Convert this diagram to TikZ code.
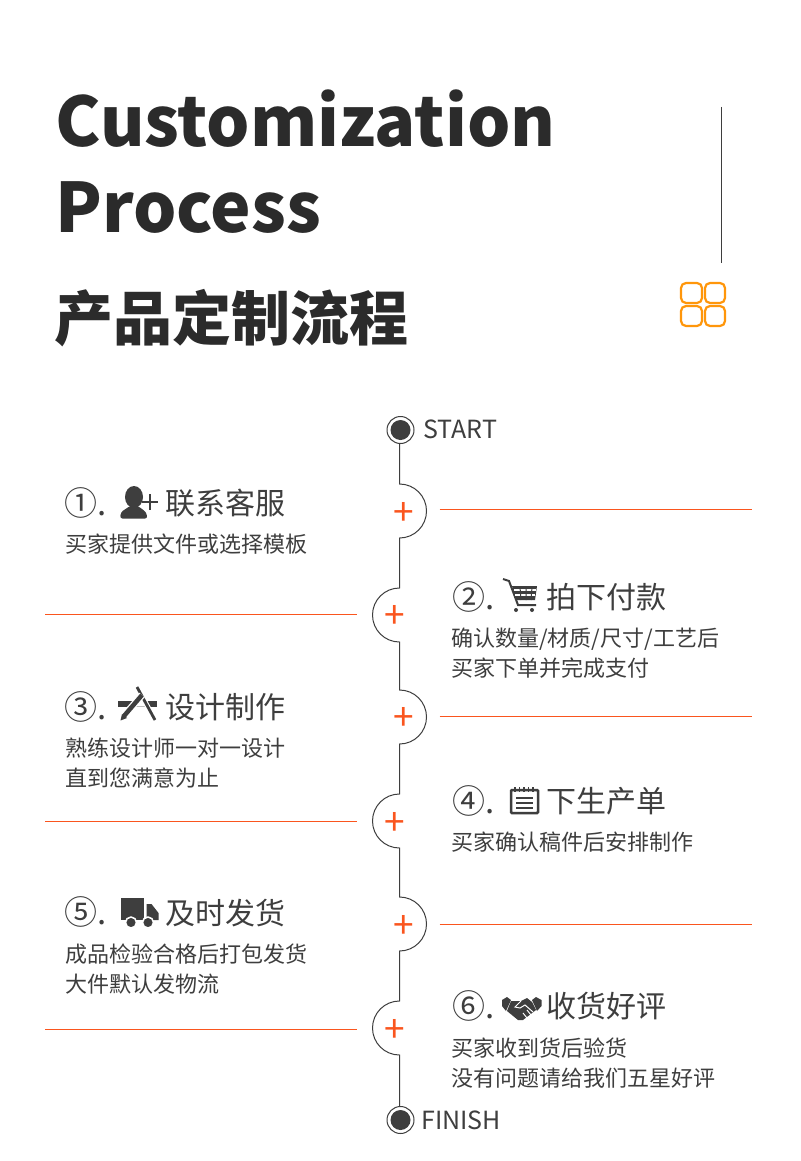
\documentclass[tikz,border=0pt]{standalone}
\usepackage{fontspec}
\setmainfont{Noto Sans CJK SC}
\usetikzlibrary{positioning}
\definecolor{pdark}{RGB}{43,43,43}
\definecolor{pgray}{RGB}{62,62,62}
\definecolor{porange}{RGB}{250,85,30}
\definecolor{pyellow}{RGB}{255,150,10}
\tikzset{
  titletext/.style={anchor=base west,inner sep=0pt,text=pdark,font=\fontsize{68.3}{69}\selectfont\bfseries},
  cntitle/.style={anchor=base west,inner sep=0pt,text=pdark,font=\fontsize{59}{59}\selectfont\bfseries},
  headtext/.style={anchor=base west,inner sep=0pt,text=pgray,font=\fontsize{30}{30}\selectfont},
  numtext/.style={anchor=base west,inner sep=0pt,text=pgray,font=\fontsize{33}{33}\selectfont},
  subtext/.style={anchor=base west,inner sep=0pt,text=pgray,font=\fontsize{22}{22}\selectfont},
  endtext/.style={anchor=base west,inner sep=0pt,text=pgray,font=\fontsize{25}{25}\selectfont},
  plusmark/.style={inner sep=0pt,minimum size=0pt,text=porange,yshift=-3pt,font=\fontsize{37}{37}\selectfont},
  spine/.style={draw=pgray,line width=1pt},
  rule/.style={draw=porange,line width=1pt},
  tile/.style={draw=pyellow,line width=2.2pt,rounded corners=5pt}
}
\begin{document}
\begin{tikzpicture}[x=1pt,y=-1pt]
  \useasboundingbox[fill=white] (0,0) rectangle (800,1161);
  % Title
  \node[titletext] (title1) at (55,147) {Customization};
  \node[titletext] (title2) at (55,232) {Process};
  \node[cntitle] (title3) at (54.5,340) {产品定制流程};
  % Corner mark
  \draw[draw=pgray,line width=1pt] (721.5,107) -- (721.5,263);
  \draw[tile] (681,283) rectangle (702,303);
  \draw[tile] (705,283) rectangle (725,303);
  \draw[tile] (681,306) rectangle (702,326);
  \draw[tile] (705,306) rectangle (725,326);
  % End points
  \fill[pgray] (400.5,430) circle (10);
  \draw[pgray,line width=1pt] (400.5,430) circle (13.5);
  \coordinate (startdot) at (399.5,443.5);
  \node[endtext] (startlabel) at (423,438) {START};
  \fill[pgray] (400.5,1120) circle (10);
  \draw[pgray,line width=1pt] (400.5,1120) circle (13.5);
  \coordinate (finishdot) at (399.5,1106.5);
  \node[endtext] (finishlabel) at (421,1129) {FINISH};
  % Spine
  \coordinate (arc1) at (399.5,484);
  \coordinate (arc2) at (399.5,588);
  \coordinate (arc3) at (399.5,690);
  \coordinate (arc4) at (399.5,794);
  \coordinate (arc5) at (399.5,897);
  \coordinate (arc6) at (399.5,1001);
  \draw[spine] (startdot) -- (arc1) arc[start angle=-90,end angle=90,radius=27]
    -- (arc2) arc[start angle=-90,end angle=-270,radius=27]
    -- (arc3) arc[start angle=-90,end angle=90,radius=27]
    -- (arc4) arc[start angle=-90,end angle=-270,radius=27]
    -- (arc5) arc[start angle=-90,end angle=90,radius=27]
    -- (arc6) arc[start angle=-90,end angle=-270,radius=27] -- (finishdot);
  % Orange rules
  \draw[rule] (439.5,509.5) -- (751.5,509.5);
  \draw[rule] (45,614.5) -- (357,614.5);
  \draw[rule] (439.5,716.5) -- (751.5,716.5);
  \draw[rule] (45,821.5) -- (357,821.5);
  \draw[rule] (439.5,924.5) -- (751.5,924.5);
  \draw[rule] (45,1029.5) -- (357,1029.5);
  % Plus signs
  \node[plusmark] (plus1) at (404,511) {+};
  \node[plusmark] (plus2) at (395,614) {+};
  \node[plusmark] (plus3) at (404,716) {+};
  \node[plusmark] (plus4) at (395,821) {+};
  \node[plusmark] (plus5) at (404,924) {+};
  \node[plusmark] (plus6) at (395,1028) {+};
  % Step 1
  \node[numtext] (num1) at (64,515) {①.};
  \fill[pgray] (134,497) ellipse (9 and 11);
  \fill[pgray,rounded corners=2.5pt] (120,518.5) -- (121,512) -- (130,506) -- (138,506) -- (146,512) -- (147.5,518.5) -- cycle;
  \draw[pgray,line width=2.6pt] (142,502) -- (158,502) (150,494) -- (150,510);
  \node[headtext] (head1) at (165,514) {联系客服};
  \node[subtext] (sub1) at (65,552) {买家提供文件或选择模板};
  % Step 2
  \node[numtext] (num2) at (452,609) {②.};
  \draw[pgray,line width=2pt] (503,579) -- (509,581) -- (518,605) -- (536,605);
  \fill[pgray] (512,586) -- (537,586) -- (535,600) -- (516,600) -- cycle;
  \draw[white,line width=1.2pt] (514,590) -- (536,590) (515,595) -- (535,595);
  \draw[pgray,line width=1pt] (520,587) -- (521,600) (526,587) -- (526,600) (532,587) -- (531,600);
  \fill[pgray] (516,610) circle (2) (532,610) circle (2);
  \node[headtext] (head2) at (546,608) {拍下付款};
  \node[subtext] (sub2a) at (451,646) {确认数量/材质/尺寸/工艺后};
  \node[subtext] (sub2b) at (451,676) {买家下单并完成支付};
  % Step 3
  \node[numtext] (num3) at (64,719) {③.};
  \fill[pgray] (118,700.5) rectangle (157,706.7);
  \fill[white] (131,706.7) -- (146,706.7) -- (139,694) -- cycle;
  \draw[white,line width=5pt] (137,687) -- (155,720);
  \draw[pgray,line width=2.8pt] (137,687) -- (155,720);
  \draw[white,line width=7pt] (142,695) -- (123,717);
  \draw[pgray,line width=4.5pt] (142,695) -- (124,716);
  \fill[pgray] (120.5,720.5) -- (122,714) -- (127,718) -- cycle;
  \node[headtext] (head3) at (165,718) {设计制作};
  \node[subtext] (sub3a) at (65,756) {熟练设计师一对一设计};
  \node[subtext] (sub3b) at (65,786) {直到您满意为止};
  % Step 4
  \node[numtext] (num4) at (452,813) {④.};
  \draw[pgray,line width=2.5pt,rounded corners=1pt] (511,790) rectangle (538,813);
  \foreach \ringx in {515,519.5,524,528.5,533}
    \draw[pgray,line width=1.6pt] (\ringx,787) -- (\ringx,792);
  \draw[pgray,line width=1.2pt] (516,798) -- (533,798) (516,803) -- (533,803) (516,808) -- (533,808);
  \node[headtext] (head4) at (546,812) {下生产单};
  \node[subtext] (sub4) at (451,850) {买家确认稿件后安排制作};
  % Step 5
  \node[numtext] (num5) at (64,924) {⑤.};
  \fill[pgray] (121,898) rectangle (143.5,920);
  \fill[pgray] (146.5,904) -- (151.5,904) -- (158.5,913) -- (158.5,920) -- (146.5,920) -- cycle;
  \fill[pgray,draw=white,line width=1.5pt] (131,922.5) circle (5.5) (148,922.5) circle (5.5);
  \node[headtext] (head5) at (165,924) {及时发货};
  \node[subtext] (sub5a) at (65,962) {成品检验合格后打包发货};
  \node[subtext] (sub5b) at (65,992) {大件默认发物流};
  % Step 6
  \node[numtext] (num6) at (452,1018) {⑥.};
  \fill[pgray] (502,1000) -- (507,997) -- (511,1000) -- (506,1011) -- (502,1006) -- cycle;
  \fill[pgray] (541.5,1000) -- (536,997) -- (532,1000) -- (537,1011) -- (541.5,1006) -- cycle;
  \fill[pgray] (511,1001) -- (521,1001) -- (527,998) -- (532,1002) -- (536,1010) -- (523,1020) -- (518,1020) -- (507,1011) -- cycle;
  \draw[white,line width=1pt] (521,1001) -- (515,1007) -- (520,1008) -- (525,1005) -- (533,1012) (527,1010) -- (531,1015) (523,1013) -- (527,1018);
  \node[headtext] (head6) at (546,1017) {收货好评};
  \node[subtext] (sub6a) at (451,1056) {买家收到货后验货};
  \node[subtext] (sub6b) at (451,1086) {没有问题请给我们五星好评};
\end{tikzpicture}
\end{document}
